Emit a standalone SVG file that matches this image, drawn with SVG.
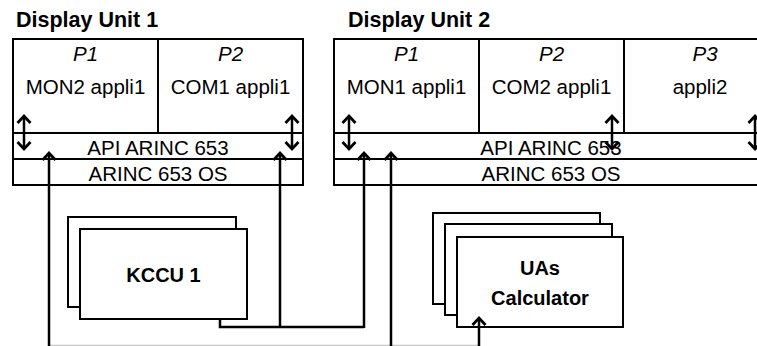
<svg xmlns="http://www.w3.org/2000/svg" width="757" height="346" viewBox="0 0 757 346">
<style>
.box{fill:#fff;stroke:#000;stroke-width:2}
.ln{fill:none;stroke:#000;stroke-width:2}
.t{font-family:"Liberation Sans",Arial,sans-serif;font-size:20.5px;fill:#000;text-anchor:middle}
.pi{font-style:italic}
.title{font-family:"Liberation Sans",Arial,sans-serif;font-size:21.5px;font-weight:bold;fill:#000}
.b{font-family:"Liberation Sans",Arial,sans-serif;font-size:20px;font-weight:bold;fill:#000;text-anchor:middle}
.c{fill:none;stroke:#000;stroke-width:2.5}
.arr{fill:none;stroke:#000;stroke-width:2.5;marker-end:url(#ah)}
.dbl{fill:none;stroke:#000;stroke-width:2.5;marker-start:url(#ah);marker-end:url(#ah)}
</style>
<defs>
<marker id="ah" markerUnits="userSpaceOnUse" viewBox="-10 -8 12 16" markerWidth="12" markerHeight="16" refX="0" refY="0" orient="auto-start-reverse" overflow="visible">
<path d="M-7,-6.5 L0,0 L-7,6.5" fill="none" stroke="#000" stroke-width="2.8"/>
</marker>
</defs>
<rect width="757" height="346" fill="#fff"/>

<g id="du1">
<text class="title" x="16" y="27">Display Unit 1</text>
<rect class="box" x="13" y="39" width="290" height="146"/>
<line class="ln" x1="13" y1="133" x2="303" y2="133"/>
<line class="ln" x1="13" y1="159" x2="303" y2="159"/>
<line class="ln" x1="158" y1="39" x2="158" y2="133"/>
<text class="t pi" x="85.5" y="61">P1</text>
<text class="t" x="85.5" y="94">MON2 appli1</text>
<text class="t pi" x="230.5" y="61">P2</text>
<text class="t" x="230.5" y="94">COM1 appli1</text>
<text class="t" x="158" y="155">API ARINC 653</text>
<text class="t" x="158" y="181">ARINC 653 OS</text>
</g>

<g id="du2">
<text class="title" x="348" y="27">Display Unit 2</text>
<rect class="box" x="334" y="39" width="434" height="146"/>
<line class="ln" x1="334" y1="133" x2="768" y2="133"/>
<line class="ln" x1="334" y1="159" x2="768" y2="159"/>
<line class="ln" x1="479" y1="39" x2="479" y2="133"/>
<line class="ln" x1="624" y1="39" x2="624" y2="133"/>
<text class="t pi" x="406.5" y="61">P1</text>
<text class="t" x="406.5" y="94">MON1 appli1</text>
<text class="t pi" x="551.5" y="61">P2</text>
<text class="t" x="551.5" y="94">COM2 appli1</text>
<text class="t pi" x="705" y="61">P3</text>
<text class="t" x="700" y="94">appli2</text>
<text class="t" x="551" y="155">API ARINC 653</text>
<text class="t" x="551" y="181">ARINC 653 OS</text>
</g>

<g id="kccu1">
<rect class="box" x="68" y="217" width="168" height="90"/>
<rect class="box" x="80" y="229" width="167" height="90"/>
<text class="b" x="163.5" y="282">KCCU 1</text>
</g>

<g id="uas">
<rect class="box" x="433" y="213" width="167" height="91"/>
<rect class="box" x="445" y="224" width="167" height="91"/>
<rect class="box" x="457" y="237" width="166" height="90"/>
<text class="b" x="540" y="275">UAs</text>
<text class="b" x="540" y="305">Calculator</text>
</g>

<g id="connectors">
<line class="dbl" x1="24" y1="116" x2="24" y2="149"/>
<line class="dbl" x1="292" y1="116" x2="292" y2="149"/>
<line class="dbl" x1="349" y1="116" x2="349" y2="149"/>
<line class="dbl" x1="612" y1="116" x2="612" y2="149"/>
<line class="dbl" x1="755" y1="116" x2="755" y2="149"/>
<line x1="48" y1="345.5" x2="480" y2="345.5" stroke="#c8c8c8" stroke-width="1.5"/>
<line class="arr" x1="49" y1="346" x2="49" y2="153"/>
<line class="arr" x1="391" y1="346" x2="391" y2="153"/>
<line class="arr" x1="479" y1="346" x2="479" y2="318"/>
<polyline class="c" points="220,319 220,327 364,327"/>
<line class="arr" x1="364" y1="328" x2="364" y2="153"/>
<line class="arr" x1="280" y1="328" x2="280" y2="153"/>
</g>
</svg>
